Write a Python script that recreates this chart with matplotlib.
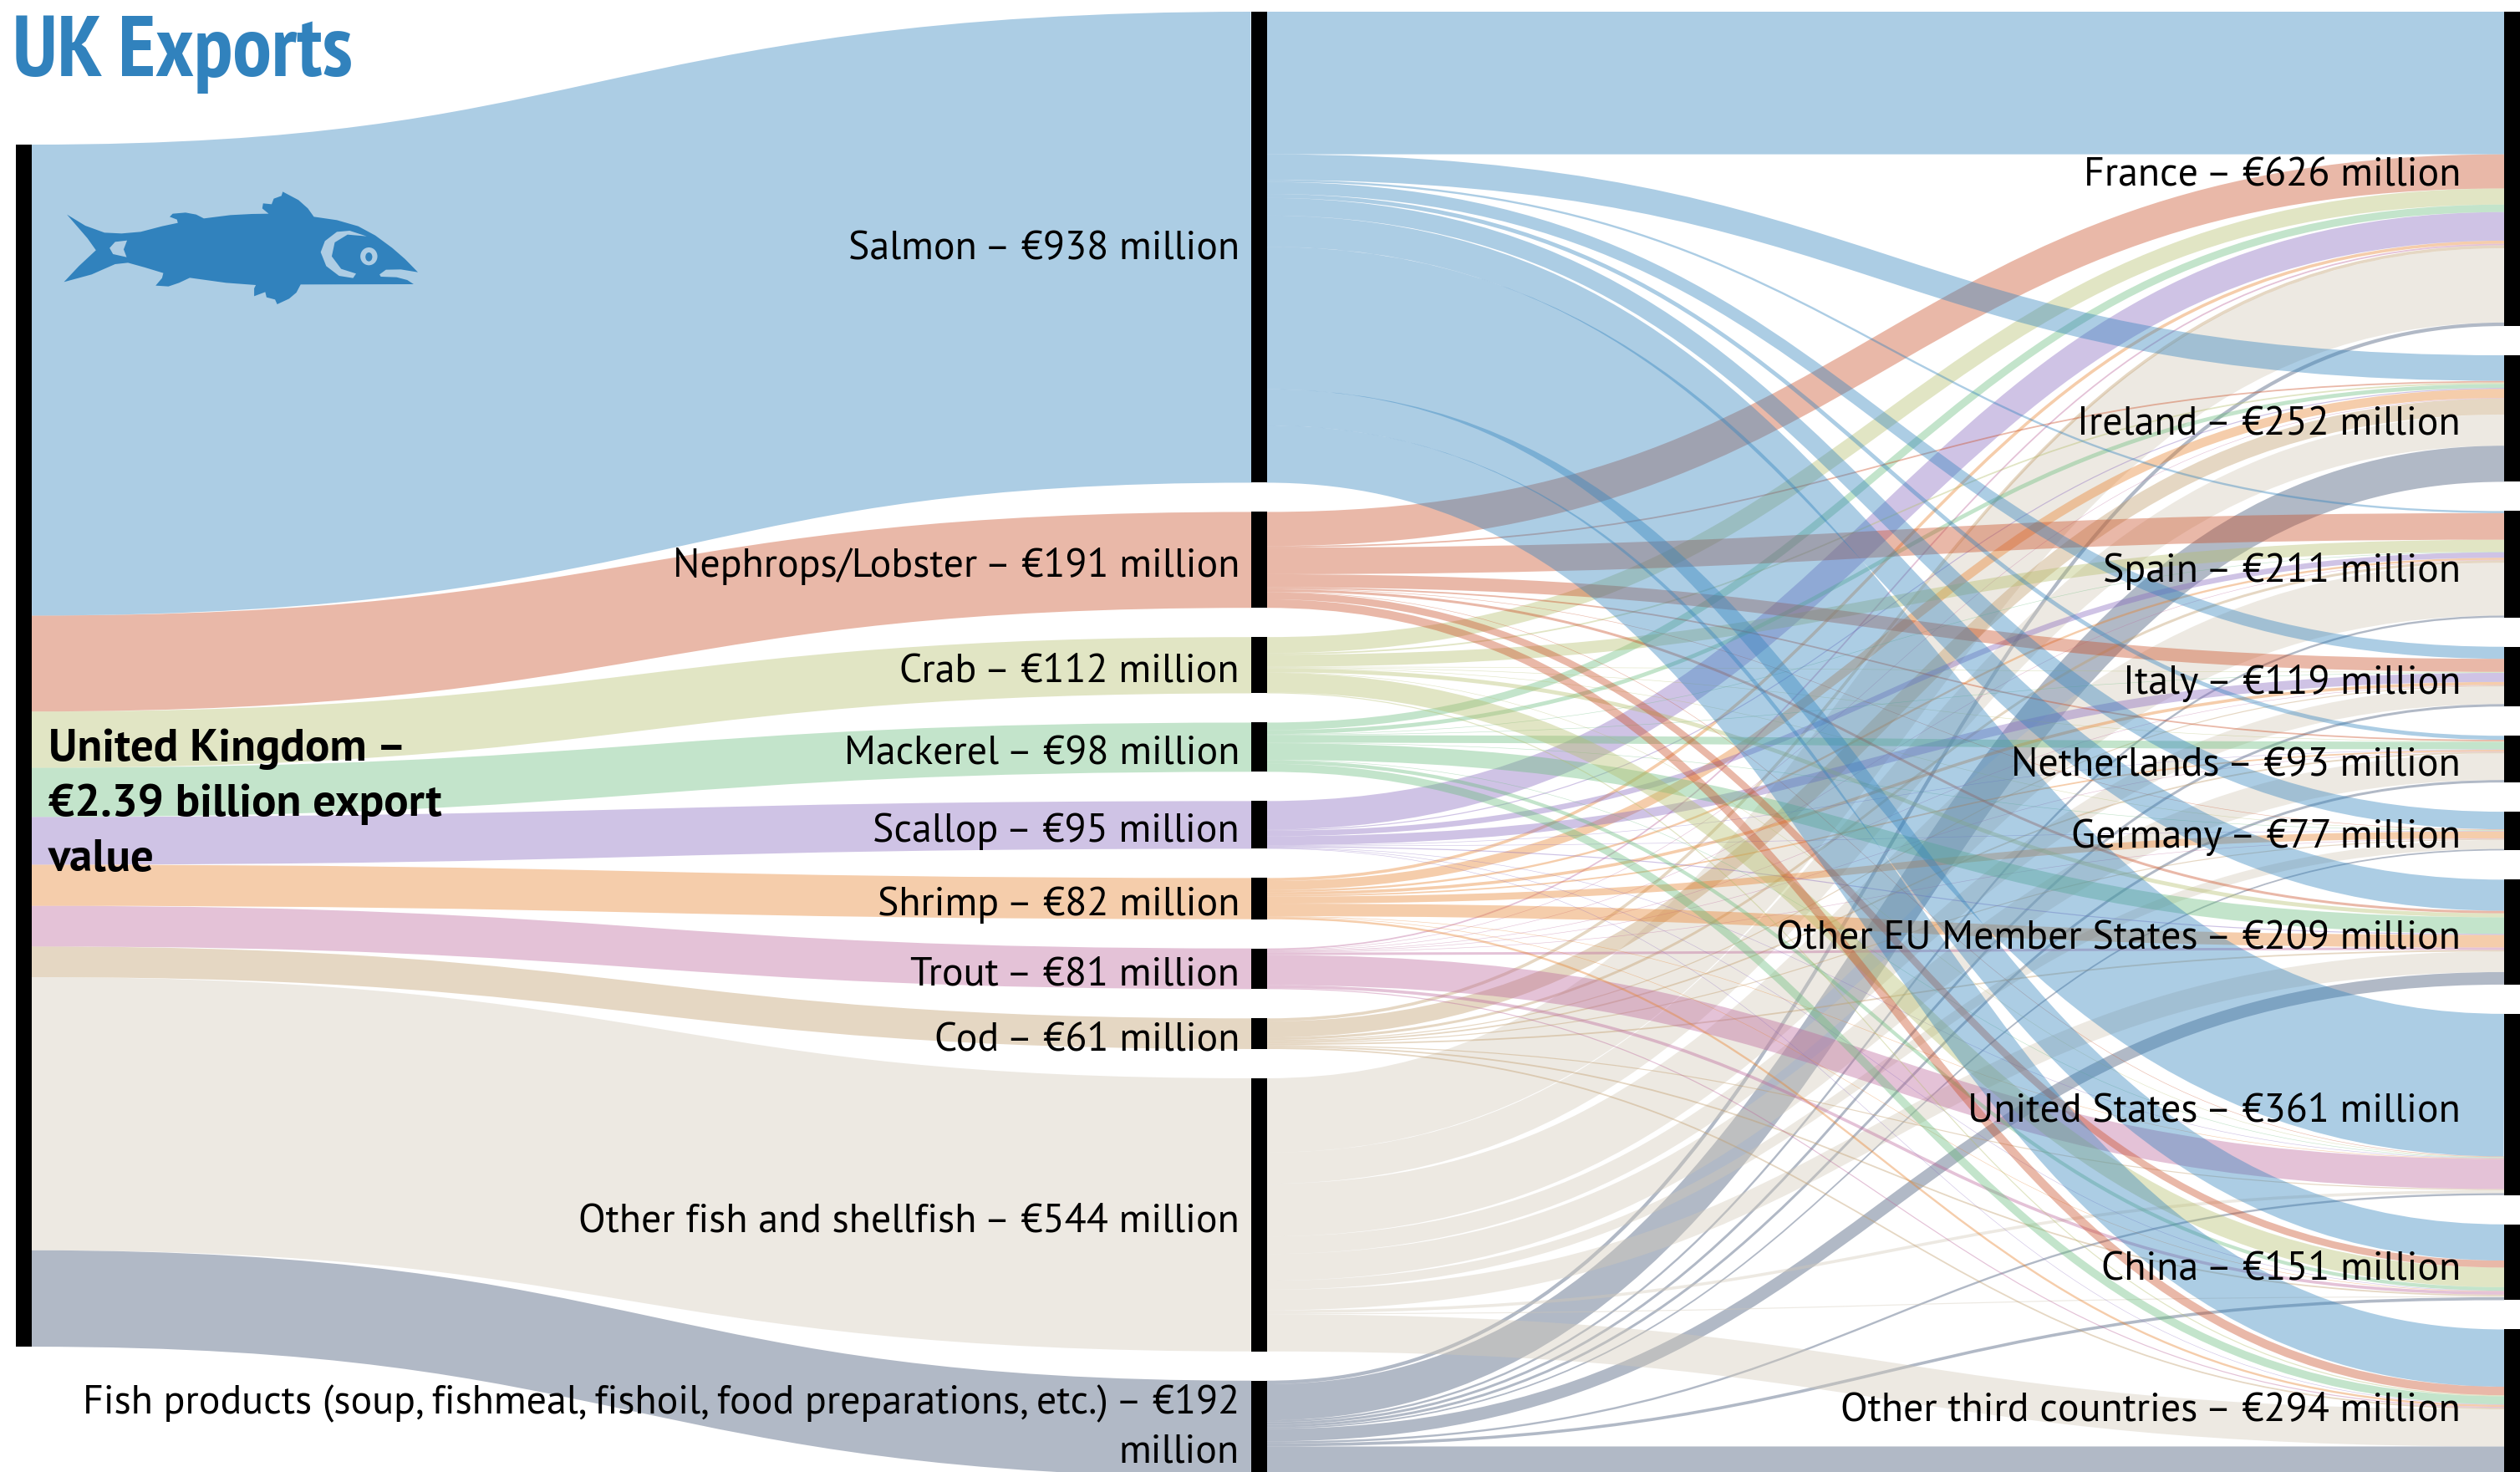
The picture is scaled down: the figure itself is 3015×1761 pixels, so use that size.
#!/usr/bin/env python3
"""UK exports sankey: total -> product -> destination, values in EUR million."""
import matplotlib
matplotlib.use("Agg")
import matplotlib.pyplot as plt
from matplotlib.patches import PathPatch, Polygon, Ellipse, Rectangle
from matplotlib.path import Path as MPath

W, H = 3015, 1761
LABEL_FONT = ["PT Sans", "Lato", "Open Sans", "DejaVu Sans"]
TITLE_FONT = ["PT Sans Narrow", "Liberation Sans"]

PRODUCTS = ["Salmon", "Nephrops/Lobster", "Crab", "Mackerel", "Scallop", "Shrimp",
            "Trout", "Cod", "Other fish and shellfish",
            "Fish products (soup, fishmeal, fishoil, food preparations, etc.)"]
PRODUCT_LABELS = [938, 191, 112, 98, 95, 82, 81, 61, 544, 192]
COUNTRIES = ["France", "Ireland", "Spain", "Italy", "Netherlands", "Germany",
             "Other EU Member States", "United States", "China", "Other third countries"]
COUNTRY_LABELS = [626, 252, 211, 119, 93, 77, 209, 361, 151, 294]
#            FR   IE   ES   IT  NL  DE  EU   US   CN   OT
SALMON =    [284, 51,  4,   24, 8,  35, 62,  284, 72,  114]
NEPHROPS =  [68,  3,   53,  26, 3,  1,  5,   1,   14,  17]
CRAB =      [32,  3,   24,  1,  1,  1,  8,   1,   39,  2]
MACKEREL =  [15,  8,   1,   1,  15, 1,  33,  1,   7,   16]
SCALLOP =   [57,  2,   11,  18, 1,  1,  2,   1,   1,   1]
SHRIMP =    [6,   18,  4,   6,  3,  14, 25,  1,   1,   4]
TROUT =     [3,   1,   1,   1,  1,  1,  5,   60,  6,   2]
COD =       [6,   32,  5,   2,  3,  2,  3,   2,   3,   3]
OTHER =     [148, 62,  105, 35, 53, 18, 41,  6,   2,   74]
FISH_PROD = [7,   72,  4,   5,  5,  3,  25,  4,   6,   61]
FLOWS = [SALMON, NEPHROPS, CRAB, MACKEREL, SCALLOP, SHRIMP, TROUT, COD, OTHER, FISH_PROD]
COLORS = ["#3182bd", "#ca4e26", "#b4be6c", "#69bc7d", "#8769be", "#e8822d",
          "#bc679b", "#c09b69", "#d2c9b8", "#3e5071"]

# layout, in pixels of the final image
K = 0.6007          # px per EUR million
GAP = 35
TOP = 14
LEFT_TOP = 173
BAR = 18.5
X_LEFT, X_MID, X_RIGHT = 19, 1497, 2996

fig = plt.figure(figsize=(W / 100, H / 100), dpi=100)
ax = fig.add_axes([0, 0, 1, 1])
ax.set_xlim(0, W); ax.set_ylim(H, 0); ax.axis("off")


def stack(totals, start):
    tops, y = [], start
    for t in totals:
        tops.append(y)
        y += t * K + GAP
    return tops


def link(x0, y0, x1, y1, val, col):
    xm = (x0 + x1) / 2
    p = MPath([(x0, y0), (xm, y0), (xm, y1), (x1, y1)],
              [MPath.MOVETO, MPath.CURVE4, MPath.CURVE4, MPath.CURVE4])
    ax.add_patch(PathPatch(p, fc="none", ec=col, alpha=0.4, lw=val * K * 0.72,
                           capstyle="butt", zorder=2))


prod_tot = [sum(r) for r in FLOWS]
ctry_tot = [sum(r[j] for r in FLOWS) for j in range(len(COUNTRIES))]
prod_top = stack(prod_tot, TOP)
ctry_top = stack(ctry_tot, TOP)

# left level: UK to product
y_left = LEFT_TOP
left_pos = []
for t in prod_tot:
    left_pos.append(y_left)
    y_left += t * K
for i in reversed(range(len(PRODUCTS))):
    link(X_LEFT + BAR, left_pos[i] + prod_tot[i] * K / 2, X_MID,
         prod_top[i] + prod_tot[i] * K / 2, prod_tot[i], COLORS[i])

# right level: product to country, stacked by target at the source and by source at the target
src_y = []
for i, row in enumerate(FLOWS):
    ys, y = [], prod_top[i]
    for v in row:
        ys.append(y)
        y += v * K
    src_y.append(ys)
dst_y = [[0] * len(COUNTRIES) for _ in FLOWS]
for j in range(len(COUNTRIES)):
    y = ctry_top[j]
    for i, row in enumerate(FLOWS):
        dst_y[i][j] = y
        y += row[j] * K
for i in reversed(range(len(FLOWS))):
    for j, v in enumerate(FLOWS[i]):
        link(X_MID + BAR, src_y[i][j] + v * K / 2, X_RIGHT, dst_y[i][j] + v * K / 2, v, COLORS[i])

# node bars
ax.add_patch(Rectangle((X_LEFT, LEFT_TOP), BAR, sum(prod_tot) * K, fc="black", ec="none", zorder=3))
for top, t in zip(prod_top, prod_tot):
    ax.add_patch(Rectangle((X_MID, top), BAR, t * K, fc="black", ec="none", zorder=3))
for top, t in zip(ctry_top, ctry_tot):
    ax.add_patch(Rectangle((X_RIGHT, top), BAR, t * K, fc="black", ec="none", zorder=3))

# labels
FS = 34.5
for i, (name, val) in enumerate(zip(PRODUCTS, PRODUCT_LABELS)):
    s, dy = f"{name} – €{val} million", 8
    if i == 0:
        dy = 2
    if i == len(PRODUCTS) - 1:
        s, dy = f"{name} – €{val}\nmillion", -2
    ax.text(X_MID - 14, prod_top[i] + prod_tot[i] * K / 2 + dy, s, ha="right", va="center",
            fontsize=FS, family=LABEL_FONT, color="black", zorder=4, linespacing=1.44)
for j, (name, val) in enumerate(zip(COUNTRIES, COUNTRY_LABELS)):
    ax.text(2944, ctry_top[j] + ctry_tot[j] * K / 2 + 8, f"{name} – €{val} million", ha="right",
            va="center", fontsize=FS, family=LABEL_FONT, color="black", zorder=4)
ax.text(58, 962, "United Kingdom –\n€2.39 billion export\nvalue", ha="left", va="center",
        fontsize=39.5, fontweight="bold", family=LABEL_FONT, color="black", zorder=4, linespacing=1.44)
ax.text(15, 91, "UK Exports", ha="left", va="baseline", fontsize=75, fontweight="bold",
        family=TITLE_FONT, color="#3182bd", zorder=4)

# fish icon (crop units: x/1.96, y/3)
BODY = [(157, 770), (200, 810), (245, 835), (285, 838), (330, 832), (380, 812), (417, 800),
        (415, 788), (398, 778), (405, 767), (435, 763), (460, 770), (478, 784), (540, 772),
        (590, 768), (630, 767), (615, 748), (617, 730), (637, 733), (642, 713), (660, 703),
        (663, 688), (700, 718), (722, 748), (736, 778), (790, 790), (840, 812), (880, 845),
        (920, 890), (950, 930), (980, 977), (940, 967), (905, 968), (890, 985), (893, 993),
        (930, 995), (955, 1005), (970, 1020), (705, 1021), (695, 1050), (678, 1072), (650, 1092),
        (645, 1075), (625, 1067), (622, 1048), (596, 1063), (596, 1035), (600, 1023), (530, 1015),
        (445, 997), (420, 1015), (395, 1028), (365, 1025), (380, 998), (383, 980), (340, 960),
        (300, 943), (270, 948), (240, 968), (215, 985), (150, 1012), (185, 955), (225, 898),
        (205, 855)]
TAIL_MARK = [(298, 863), (270, 868), (257, 890), (265, 912), (297, 923), (290, 895)]
GILL = [(860, 848), (820, 828), (790, 832), (762, 865), (752, 905), (765, 955), (795, 990),
        (828, 998), (835, 982), (800, 965), (778, 920), (785, 870), (815, 842)]
LIGHT, DARK = "#aecde4", "#3182bd"


def crop(pts):
    return [(x / 1.96, y / 3) for x, y in pts]


ax.add_patch(Polygon(crop(BODY), fc=DARK, ec="none", zorder=3))
ax.add_patch(Polygon(crop(TAIL_MARK), fc=LIGHT, ec="none", zorder=3.1))
ax.add_patch(Polygon(crop(GILL), fc=LIGHT, ec="none", zorder=3.1))
ax.add_patch(Ellipse((865 / 1.96, 920 / 3), 40 / 1.96, 64 / 3, fc=LIGHT, ec="none", zorder=3.1))
ax.add_patch(Ellipse((865 / 1.96, 922 / 3), 16 / 1.96, 32 / 3, fc=DARK, ec="none", zorder=3.2))

fig.savefig("out.png", dpi=100)
